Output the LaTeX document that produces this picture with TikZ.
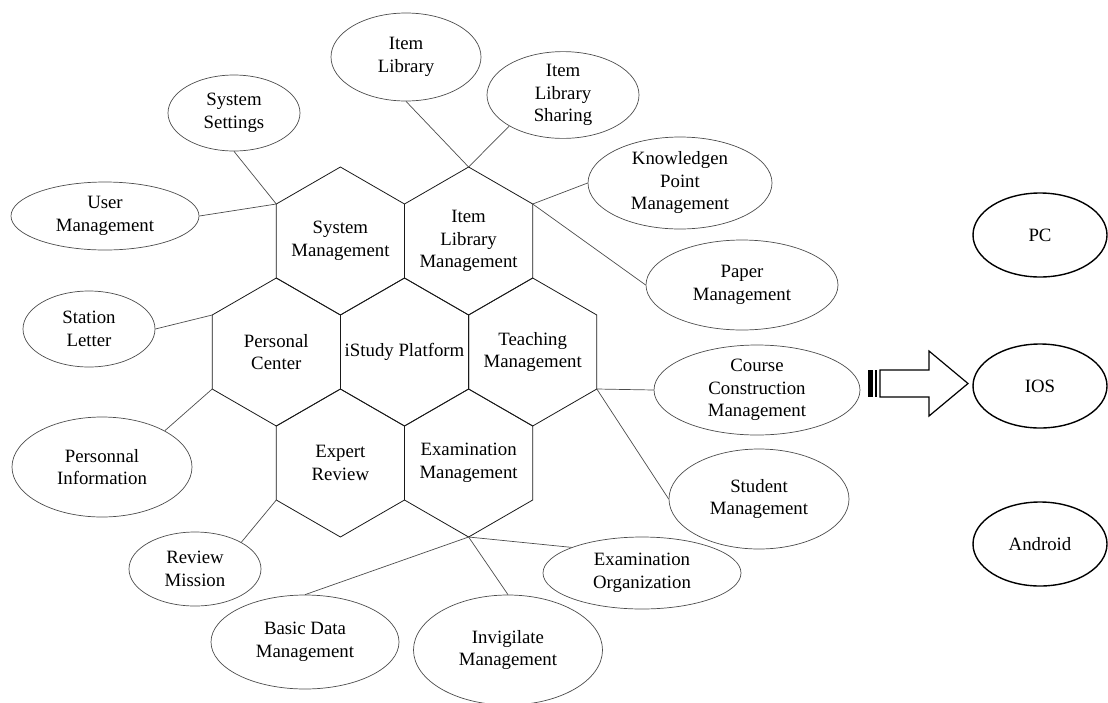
\documentclass[tikz,border=0pt]{standalone}
\usepackage{fontspec}
\setmainfont{Liberation Serif}
\usetikzlibrary{shapes.geometric}

\tikzset{
  hexline/.style={draw=black!90, line width=0.8pt},
  leaf/.style={ellipse, draw=black!70, line width=0.7pt, inner sep=0pt, align=center},
  term/.style={ellipse, draw=black, line width=1.4pt, inner sep=0pt,
    minimum width=134pt, minimum height=84pt},
  link/.style={draw=black!70, line width=0.7pt}
}
% name, x, y, text
\newcommand{\hexcell}[4]{%
  \begin{scope}[shift={(#2,#3)}]
  \draw[hexline] (0,-74) coordinate (#1-n) -- (64.1,-37) coordinate (#1-ne)
    -- (64.1,37) coordinate (#1-se) -- (0,74) coordinate (#1-s)
    -- (-64.1,37) coordinate (#1-sw) -- (-64.1,-37) coordinate (#1-nw) -- cycle;
  \node[align=center] (#1) at (0,0) {#4};
  \end{scope}}

\begin{document}
\begin{tikzpicture}[x=1pt,y=-1pt,font=\fontsize{18.8}{22.5}\selectfont]
\useasboundingbox (0,0) rectangle (1108,702);
\hexcell{sys}{340.4}{241}{System\\Management}
\hexcell{ilm}{468.6}{241}{Item\\Library\\Management}
\hexcell{pcn}{276.3}{352}{Personal\\Center}
\hexcell{ist}{404.5}{352}{iStudy Platform}
\hexcell{tm}{532.7}{352}{Teaching\\Management}
\hexcell{er}{340.4}{463}{Expert\\Review}
\hexcell{em}{468.6}{463}{Examination\\Management}

\node[leaf, minimum width=188pt, minimum height=68pt] (um) at (105,216) {User\\Management};
\node[leaf, minimum width=132pt, minimum height=76pt] (ss) at (234,113) {System\\Settings};
\node[leaf, minimum width=150pt, minimum height=88pt] (il) at (406,57) {Item\\Library};
\node[leaf, minimum width=152pt, minimum height=80pt] (ils) at (563,95) {Item\\Library\\Sharing};
\node[leaf, minimum width=184pt, minimum height=92pt] (kp) at (680,183) {Knowledgen\\Point\\Management};
\node[leaf, minimum width=192pt, minimum height=90pt] (pm) at (742,285) {Paper\\Management};
\node[leaf, minimum width=206pt, minimum height=90pt] (ccm) at (757,390) {Course\\Construction\\Management};
\node[leaf, minimum width=180pt, minimum height=100pt] (sm) at (759,499) {Student\\Management};
\node[leaf, minimum width=198pt, minimum height=72pt] (eo) at (642,573) {Examination\\Organization};
\node[leaf, minimum width=189pt, minimum height=110pt] (ig) at (508,650) {Invigilate\\Management};
\node[leaf, minimum width=188pt, minimum height=94pt] (bd) at (305,642) {Basic Data\\Management};
\node[leaf, minimum width=132pt, minimum height=74pt] (rm) at (195,569) {Review\\Mission};
\node[leaf, minimum width=180pt, minimum height=100pt] (pi) at (102,467) {Personnal\\Information};
\node[leaf, minimum width=132pt, minimum height=76pt] (sl) at (89,329) {Station\\Letter};

\foreach \a/\b in {ss.south/sys-nw, um.east/sys-nw, il.south/ilm-n, ils.210/ilm-n,
  kp.west/ilm-ne, pm.west/ilm-ne, ccm.west/tm-se, sm.west/tm-se, eo.160/em-s,
  ig.north/em-s, bd.north/em-s, rm.30/er-sw, pi.30/pcn-sw, sl.east/pcn-nw}
\draw[link] (\a) -- (\b);

\foreach \n/\y/\t in {pc/235/PC, ios/386/IOS, andr/544/Android}
\node[term] (\n) at (1040,\y) {\t};

\fill (868,370) rectangle (873,397);
\fill (875,370) rectangle (877,397);
\draw[line width=1.2pt] (880,370) -- (929,370) -- (929,351) -- (968,383.5) -- (929,416)
  -- (929,397) -- (880,397) -- cycle;
\end{tikzpicture}
\end{document}
